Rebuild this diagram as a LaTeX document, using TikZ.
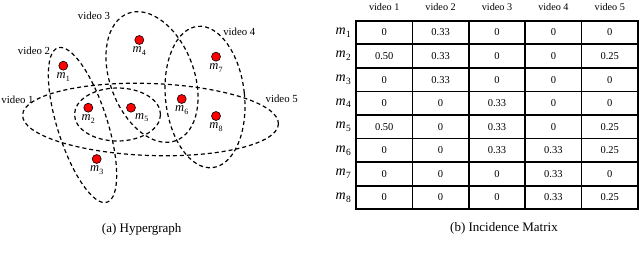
\documentclass[tikz,border=0pt]{standalone}
\usepackage{fontspec}
\setmainfont{Liberation Serif}
\newcommand{\mlab}[2][8]{\textit{m}\kern0.2pt\raisebox{-0.45ex}{\fontsize{#1}{#1}\selectfont #2}}
\begin{document}
\begin{tikzpicture}[x=1pt, y=-1pt,
  dot/.style={circle, draw=black, fill=red, line width=0.6pt, minimum size=9pt, inner sep=0pt},
  mname/.style={font=\fontsize{12.5}{13}\selectfont, inner sep=0.5pt},
  vname/.style={font=\fontsize{10.8}{12}\selectfont, inner sep=0pt},
  hedge/.style={draw, line width=1.2pt, dash pattern=on 4pt off 3pt},
  vhead/.style={font=\fontsize{10.2}{12}\selectfont, inner sep=0pt},
  rowname/.style={font=\fontsize{14}{15}\selectfont, inner sep=0pt},
  cell/.style={font=\fontsize{10.5}{12}\selectfont, inner sep=0pt},
  tabline/.style={line width=1.6pt},
  tabframe/.style={draw, line width=2.2pt},
  subcap/.style={font=\fontsize{13}{15}\selectfont, inner sep=0pt}]
\useasboundingbox (0,0) rectangle (640,268);
% (a) hypergraph
\foreach \cx/\cy/\rx/\ry/\ang in {150.5/119.5/128/36/-2, 117.5/114.5/43/26.5/0,
    82.5/125/25/81/17.6, 152/77/42/68/20.6, 205/97/39.5/71/6}
  \draw[hedge, rotate around={\ang:(\cx,\cy)}] (\cx,\cy) ellipse [x radius=\rx pt, y radius=\ry pt];
\foreach \i/\x/\y/\a/\b in {1/63.3/65.7/north/south, 2/88.3/107.7/north/south,
    3/96.7/159/north/south, 4/139.3/40/north/south, 5/131/107.7/north west/south east,
    6/181.7/99/north/south, 7/216/56.7/north/south, 8/216/116/north/south} {
  \node[dot] (m\i) at (\x,\y) {};
  \node[mname, anchor=\a] (l\i) at ([yshift=-1.5pt]m\i.\b) {\mlab{\i}};
}
\foreach \k/\x/\y in {1/17.5/100, 2/34/51, 3/94/16, 4/239.3/31.7, 5/281.7/99}
  \node[vname] (e\k) at (\x,\y) {video \k};
\node[subcap] (capa) at (141.7,229.3) {(a) Hypergraph};
% (b) incidence matrix
\def\tx{356} \def\ty{20.7} \def\cw{56.4} \def\rh{23.58}
\foreach \c in {1,...,5}
  \node[vhead] (v\c) at (\tx+\c*\cw-0.5*\cw, 7.3) {video \c};
\foreach \r/\vals in {1/{0,0.33,0,0,0}, 2/{0.50,0.33,0,0,0.25}, 3/{0,0.33,0,0,0},
    4/{0,0,0.33,0,0}, 5/{0.50,0,0.33,0,0.25}, 6/{0,0,0.33,0.33,0.25},
    7/{0,0,0,0.33,0}, 8/{0,0,0,0.33,0.25}} {
  \node[rowname, anchor=east] (r\r) at (\tx-5, \ty+\r*\rh-0.5*\rh) {\mlab[9.5]{\r}};
  \foreach \v [count=\c] in \vals
    \node[cell] (c\r\c) at (\tx+\c*\cw-0.5*\cw, \ty+\r*\rh-0.5*\rh) {\v};
}
\foreach \c in {1,...,4} \draw[tabline] (\tx+\c*\cw,\ty) -- ++(0,8*\rh);
\foreach \r in {1,...,7} \draw[tabline] (\tx,\ty+\r*\rh) -- ++(5*\cw,0);
\draw[tabframe] (\tx,\ty) rectangle ++(5*\cw,8*\rh);
\node[subcap] (capb) at (504,228.8) {(b) Incidence Matrix};
\end{tikzpicture}
\end{document}
